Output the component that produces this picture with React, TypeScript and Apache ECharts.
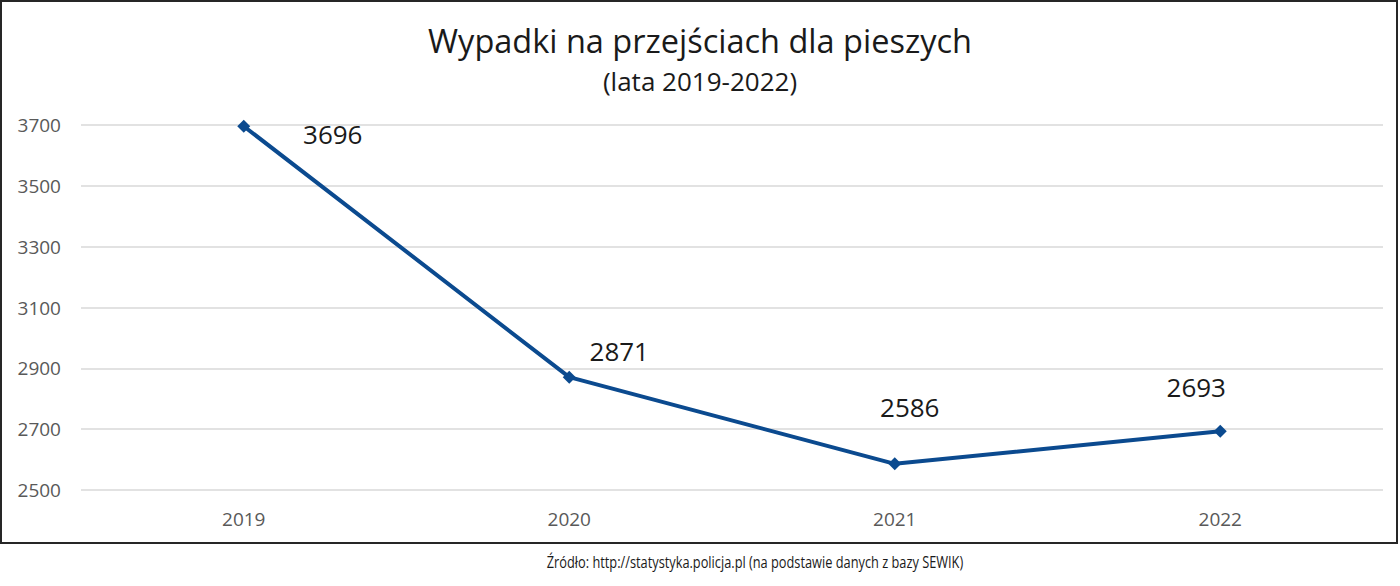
import React, { useEffect, useRef } from "react";
import * as echarts from "echarts";

const years = ["2019", "2020", "2021", "2022"];
const accidents = [3696, 2871, 2586, 2693];
const yTicks = { min: 2500, max: 3700, interval: 200 };
const titleText = "Wypadki na przejściach dla pieszych";
const subtitleText = "(lata 2019-2022)";
const sourceText = "Źródło: http://statystyka.policja.pl (na podstawie danych z bazy SEWIK)";

// label offsets relative to each point (styling only)
const labelOffsets = [
  [89, 8],
  [50, -26],
  [15, -57],
  [-24, -44],
];

export default function App() {
  const ref = useRef<HTMLDivElement>(null);
  useEffect(() => {
    if (!ref.current) return;
    const chart = echarts.init(ref.current, null, { renderer: "svg" });
    const font = "'Open Sans', 'Noto Sans', sans-serif";
    chart.setOption({
      animation: false,
      backgroundColor: "#ffffff",
      textStyle: { fontFamily: font },
      title: [
        {
          text: titleText,
          left: "center",
          top: 19,
          textStyle: { fontFamily: font, fontSize: 32.5, fontWeight: "normal", color: "#1a1a1a" },
        },
        {
          text: subtitleText,
          left: "center",
          top: 63,
          textStyle: { fontFamily: font, fontSize: 26, fontWeight: "normal", color: "#1a1a1a" },
        },
      ],
      graphic: [
        {
          type: "rect",
          shape: { x: 1, y: 1, width: 1396, height: 542 },
          style: { fill: "none", stroke: "#262626", lineWidth: 2 },
          silent: true,
          z: 100,
        },
        {
          type: "text",
          x: 755,
          y: 562,
          scaleX: 0.8,
          style: {
            text: sourceText,
            fontFamily: font,
            fontSize: 16,
            fill: "#1a1a1a",
            align: "center",
            verticalAlign: "middle",
          },
        },
      ],
      grid: { left: 81, right: 17, top: 125, bottom: 96, containLabel: false },
      xAxis: {
        type: "category",
        data: years,
        boundaryGap: true,
        axisLine: { show: false },
        axisTick: { show: false },
        axisLabel: { color: "#595959", fontSize: 19, margin: 19, fontFamily: font },
      },
      yAxis: {
        type: "value",
        min: yTicks.min,
        max: yTicks.max,
        interval: yTicks.interval,
        axisLine: { show: false },
        axisTick: { show: false },
        axisLabel: {
          color: "#595959",
          fontSize: 19,
          margin: 20,
          fontFamily: font,
          formatter: (v: number) => String(v),
        },
        splitLine: { lineStyle: { color: "#d9d9d9", width: 1.5 } },
      },
      series: [
        {
          type: "line",
          data: accidents.map((v, i) => ({
            value: v,
            label: { offset: labelOffsets[i] },
          })),
          symbol: "diamond",
          symbolSize: 13,
          lineStyle: { color: "#0B4A8F", width: 4 },
          itemStyle: { color: "#0B4A8F" },
          label: {
            show: true,
            position: "inside",
            fontSize: 26,
            color: "#1a1a1a",
            fontFamily: font,
          },
        },
      ],
    });
    return () => chart.dispose();
  }, []);
  return (
    <div
      ref={ref}
      style={{ position: "absolute", left: 0, top: 0, width: 1400, height: 586 }}
    />
  );
}
